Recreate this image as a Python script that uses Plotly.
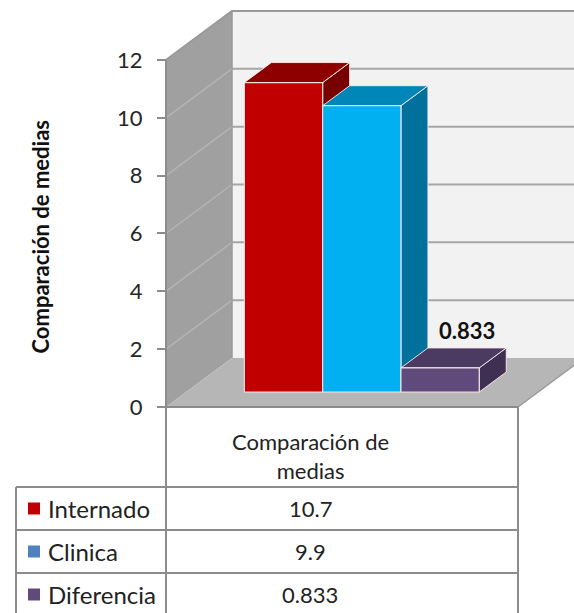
import plotly.graph_objects as go

# ---- data ----
series = ["Internado", "Clinica", "Diferencia"]
values = [10.7, 9.9, 0.833]
value_text = ["10.7", "9.9", "0.833"]
category = "Comparación de<br>medias"
axis_title = "Comparación de medias"
y_ticks = [0, 2, 4, 6, 8, 10, 12]

# ---- styling ----
front_cols = ["#C00000", "#00B0F0", "#604A7B"]
top_cols = ["#8E0000", "#0087B8", "#4B3A62"]
side_cols = ["#760000", "#00719C", "#3F2F53"]
legend_cols = ["#C00000", "#4F81BD", "#604A7B"]
FONT = "Lato"

W, H = 574, 613
PX_X, X0 = 78.3, 283.5          # pixels per x unit, pixel of x=0
PX_Y, Y0 = 28.92, 407           # pixels per y unit, pixel of y=0

def xu(p):  # pixel column -> x units
    return (p - X0) / PX_X

def yu(p):  # pixel row -> y units
    return (Y0 - p) / PX_Y

X_RANGE = [xu(0), xu(W)]
Y_RANGE = [yu(H), yu(0)]

# 3-D box geometry (in axis units)
AX_X = xu(166)                 # front-left corner / value axis
FLOOR_R = xu(518)              # front-right corner of floor
DX, DY = 66 / PX_X, 49 / PX_Y  # wall depth
BAR_BASE = yu(392)             # bars stand partway back on the floor
BDX, BDY = 27 / PX_X, 20 / PX_Y  # bar depth
BAR_W = 1.0
YMAX = max(y_ticks)

# table geometry
T_LEFT = xu(16)
T_TEXT_X = xu(310)
ROW_H = 43 / PX_Y
HEAD_B = yu(487)

fig = go.Figure()

def poly(xs, ys, fill, line="rgba(0,0,0,0)", lw=0):
    fig.add_trace(go.Scatter(
        x=list(xs) + [xs[0]], y=list(ys) + [ys[0]], mode="lines",
        fill="toself", fillcolor=fill, line=dict(color=line, width=lw),
        hoverinfo="skip", showlegend=False))

def seg(xs, ys, color, lw):
    fig.add_trace(go.Scatter(
        x=xs, y=ys, mode="lines", line=dict(color=color, width=lw),
        hoverinfo="skip", showlegend=False))

RIGHT = X_RANGE[1] + 0.5

# back wall
poly([AX_X + DX, RIGHT, RIGHT, AX_X + DX],
     [DY, DY, YMAX + DY, YMAX + DY], "#F2F2F2")
# left wall
poly([AX_X, AX_X + DX, AX_X + DX, AX_X],
     [0, DY, YMAX + DY, YMAX], "#A0A0A0")
# floor
poly([AX_X, FLOOR_R, FLOOR_R + DX, AX_X + DX],
     [0, 0, DY, DY], "#B6B6B6")

# gridlines on back wall and left wall
for t in y_ticks[1:]:
    seg([AX_X + DX, RIGHT], [t + DY, t + DY], "#A6A6A6", 2)
    seg([AX_X, AX_X + DX], [t, t + DY], "#B4B4B4", 1.5)
# wall outlines
seg([AX_X, AX_X + DX, RIGHT], [YMAX, YMAX + DY, YMAX + DY], "#9A9A9A", 2)
seg([AX_X + DX, AX_X + DX], [DY, YMAX + DY], "#9A9A9A", 1.5)
seg([FLOOR_R, FLOOR_R + DX], [0, DY], "#9A9A9A", 1.5)

# 3-D bars
edge = "rgba(255,235,235,0.9)"
for i, v in enumerate(values):
    xl, xr = i - BAR_W / 2, i + BAR_W / 2
    b, t = BAR_BASE, BAR_BASE + v
    poly([xr, xr + BDX, xr + BDX, xr], [b, b + BDY, t + BDY, t],
         side_cols[i], edge, 1)
    poly([xl, xr, xr + BDX, xl + BDX], [t, t, t + BDY, t + BDY],
         top_cols[i], edge, 1)
    poly([xl, xr, xr, xl], [b, b, t, t], front_cols[i], edge, 1.2)

# value label on the smallest bar
fig.add_annotation(x=2 + BDX, y=BAR_BASE + values[2] + BDY, text="<b>0.833</b>",
                   showarrow=False, yanchor="bottom", yshift=2,
                   font=dict(family=FONT, size=22, color="#111111"))

# data table lines
TBOT = Y_RANGE[0] - 0.3
grid = "#8C8C8C"
seg([AX_X, AX_X], [YMAX, TBOT], grid, 2)
seg([FLOOR_R, FLOOR_R], [0, TBOT], grid, 2)
seg([AX_X, FLOOR_R], [0, 0], grid, 2)
seg([T_LEFT, T_LEFT], [HEAD_B, TBOT], grid, 2)
for r in range(3):
    yy = HEAD_B - r * ROW_H
    seg([T_LEFT, FLOOR_R], [yy, yy], grid, 2)

# table header
fig.add_annotation(x=T_TEXT_X, y=(0 + HEAD_B) / 2 - 0.3, text=category,
                   showarrow=False, font=dict(family=FONT, size=22, color="#222222"))

# table rows: legend key, series name, value
fig.add_trace(go.Scatter(
    x=[xu(34)] * 3, y=[HEAD_B - (r + 0.5) * ROW_H for r in range(3)],
    mode="markers", marker=dict(symbol="square", size=12, color=legend_cols,
                                line=dict(width=0)),
    hoverinfo="skip", showlegend=False))
for r, (name, txt) in enumerate(zip(series, value_text)):
    yc = HEAD_B - (r + 0.5) * ROW_H
    fig.add_annotation(x=xu(46), y=yc, text=name, xanchor="left", showarrow=False,
                       font=dict(family=FONT, size=24, color="#222222"))
    fig.add_annotation(x=T_TEXT_X, y=yc, text=txt, showarrow=False,
                       font=dict(family=FONT, size=22, color="#222222"))

# value axis title
fig.add_annotation(xref="paper", yref="y", x=24 / W, y=yu(237),
                   text="<b>" + axis_title + "</b>", textangle=-90,
                   showarrow=False, font=dict(family=FONT, size=22, color="#111111"))

fig.update_layout(
    width=W, height=H, margin=dict(l=0, r=0, t=0, b=0),
    paper_bgcolor="white", plot_bgcolor="white", showlegend=False,
    xaxis=dict(range=X_RANGE, visible=False, domain=[0, 1]),
    yaxis=dict(range=Y_RANGE, anchor="free", position=166 / W,
               tickvals=y_ticks, ticktext=[str(t) for t in y_ticks],
               ticks="outside", ticklen=9, tickwidth=2, tickcolor="#8C8C8C",
               ticklabelstandoff=10,
               showgrid=False, zeroline=False, showline=False,
               tickfont=dict(family=FONT, size=22, color="#262626")),
)

fig.write_html("out.html")
